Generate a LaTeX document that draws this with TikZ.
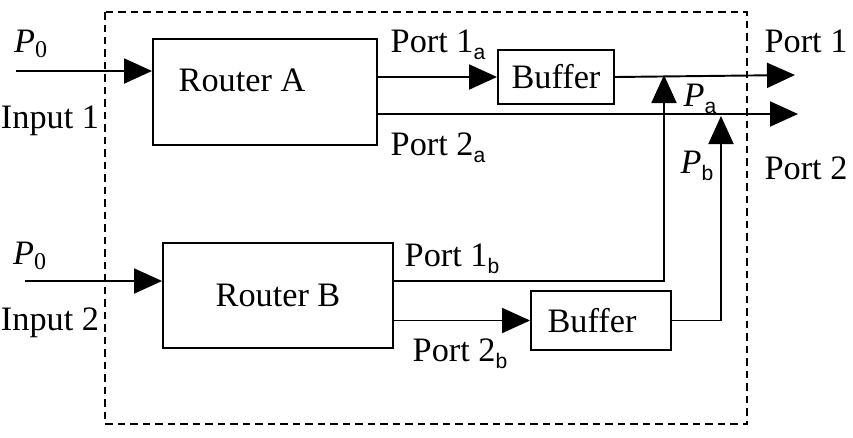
\documentclass[tikz,border=0pt]{standalone}
\usepackage{fontspec}
\setmainfont{Liberation Serif}
\newfontfamily\subsans{Liberation Sans}
\usetikzlibrary{arrows.meta, positioning, calc}

\newcommand{\subidx}[1]{\raisebox{-0.45ex}{\fontsize{12}{12}\subsans #1}}

\begin{document}
\begin{tikzpicture}[
          x=0.02cm, y=-0.02cm,
          font=\fontsize{19.5}{23}\selectfont,
          line width=1.1pt,
          box/.style={draw, inner sep=0pt},
          arr/.style={-{Triangle[length=0.56cm, width=0.5cm]}},
          frame/.style={draw, dash pattern=on 0.15cm off 0.1cm, line width=0.9pt},
          lbl/.style={inner sep=0pt}
        ]
        \useasboundingbox (0,0) rectangle (853,437);
        % Dashed switch boundary
        \draw[frame] (105,12) rectangle (747,424);
        % Routers
        \node[box, minimum width=4.48cm, minimum height=2.12cm,
              label={[xshift=-0.46cm, yshift=0.24cm]center:Router A}] (ra) at (265,92) {};
        \node[box, minimum width=4.6cm, minimum height=2.1cm] (rb) at (278,295.5) {Router B};
        % Buffers
        \node[box, minimum width=2.32cm, minimum height=1.08cm] (buf1) at (556,77) {Buffer};
        \node[box, minimum width=2.8cm, minimum height=1.18cm,
              label={[xshift=-0.18cm]center:Buffer}] (buf2) at (601,320.5) {};
        % Free ends and bends
        \coordinate (in1) at (16,71);
        \coordinate (in2) at (25,281);
        \coordinate (out1) at (795,75);
        \coordinate (out2) at (798,114);
        \coordinate (j1) at (664,281);
        \coordinate (pb) at (721,116);

        \draw[arr] (in1) -- (in1 -| ra.west);
        \draw[arr] (in2) -- (in2 -| rb.west);
        \draw[arr] (ra.east |- buf1.west) -- (buf1.west);
        \draw[arr] (buf1.east) -- (out1);
        \draw[arr] (ra.east |- out2) -- (out2);
        \draw[arr] (rb.east |- j1) -- (j1) -- (j1 |- out1);
        \draw[arr] (rb.east |- buf2.west) -- (buf2.west);
        \draw[arr] (buf2.east) -| (pb);

        % Labels
        \node[lbl] (p0a) at (31,44) {\textit{P}\textsubscript{0}};
        \node[lbl] (inp1) at (50,121) {Input 1};
        \node[lbl] (p0b) at (30,256) {\textit{P}\textsubscript{0}};
        \node[lbl] (inp2) at (50,323) {Input 2};
        \node[lbl] (l1a) at (438,45) {Port 1\subidx{a}};
        \node[lbl] (l2a) at (438,148) {Port 2\subidx{a}};
        \node[lbl] (l1b) at (452,259) {Port 1\subidx{b}};
        \node[lbl] (l2b) at (460,354) {Port 2\subidx{b}};
        \node[lbl] (lpa) at (700,99) {\textit{P}\subidx{a}};
        \node[lbl] (lpb) at (697,166) {\textit{P}\subidx{b}};
        \node[lbl] (lo1) at (806,41) {Port 1};
        \node[lbl] (lo2) at (806,168) {Port 2};
      \end{tikzpicture}
\end{document}
